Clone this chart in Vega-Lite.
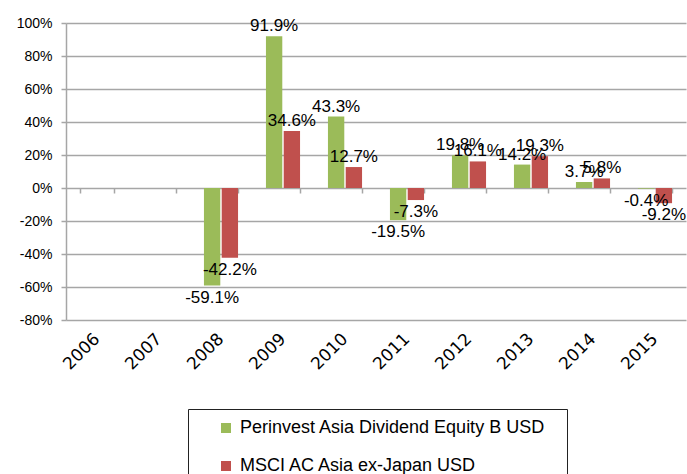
{
  "$schema": "https://vega.github.io/schema/vega-lite/v6.json",
  "width": 620,
  "height": 297,
  "autosize": "none",
  "padding": {"left": 66, "top": 23, "right": 1, "bottom": 154},
  "config": {
    "view": {"stroke": null},
    "font": "Liberation Sans",
    "locale": {"number": {"decimal": ".", "thousands": ",", "grouping": [3], "currency": ["$", ""], "minus": "-"}}
  },
  "data": {
    "values": [
      {"year": "2008", "series": "Perinvest Asia Dividend Equity B USD", "value": -0.591},
      {"year": "2008", "series": "MSCI AC Asia ex-Japan USD", "value": -0.422},
      {"year": "2009", "series": "Perinvest Asia Dividend Equity B USD", "value": 0.919},
      {"year": "2009", "series": "MSCI AC Asia ex-Japan USD", "value": 0.346},
      {"year": "2010", "series": "Perinvest Asia Dividend Equity B USD", "value": 0.433},
      {"year": "2010", "series": "MSCI AC Asia ex-Japan USD", "value": 0.127},
      {"year": "2011", "series": "Perinvest Asia Dividend Equity B USD", "value": -0.195},
      {"year": "2011", "series": "MSCI AC Asia ex-Japan USD", "value": -0.073},
      {"year": "2012", "series": "Perinvest Asia Dividend Equity B USD", "value": 0.198},
      {"year": "2012", "series": "MSCI AC Asia ex-Japan USD", "value": 0.161},
      {"year": "2013", "series": "Perinvest Asia Dividend Equity B USD", "value": 0.142},
      {"year": "2013", "series": "MSCI AC Asia ex-Japan USD", "value": 0.193},
      {"year": "2014", "series": "Perinvest Asia Dividend Equity B USD", "value": 0.037},
      {"year": "2014", "series": "MSCI AC Asia ex-Japan USD", "value": 0.058},
      {"year": "2015", "series": "Perinvest Asia Dividend Equity B USD", "value": -0.004},
      {"year": "2015", "series": "MSCI AC Asia ex-Japan USD", "value": -0.092}
    ]
  },
  "encoding": {
    "xOffset": {
      "field": "series",
      "type": "nominal",
      "scale": {"domain": ["Perinvest Asia Dividend Equity B USD", "MSCI AC Asia ex-Japan USD"], "paddingInner": 0.08}
    },
    "y": {
      "field": "value",
      "type": "quantitative",
      "scale": {"domain": [-0.8, 1.0], "nice": false, "zero": false},
      "axis": {
        "format": ".0%",
        "values": [-0.8, -0.6, -0.4, -0.2, 0, 0.2, 0.4, 0.6, 0.8, 1.0],
        "title": null,
        "gridColor": "#a6a6a6",
        "gridWidth": 1.5,
        "domainColor": "#a6a6a6",
        "domainWidth": 1.5,
        "tickColor": "#a6a6a6",
        "tickWidth": 1.5,
        "tickSize": 5,
        "labelFontSize": 14,
        "labelColor": "#000000",
        "labelPadding": 9
      }
    }
  },
  "layer": [
    {
      "mark": {"type": "bar"},
      "encoding": {
        "x": {
          "field": "year",
          "type": "nominal",
          "scale": {"domain": ["2006", "2007", "2008", "2009", "2010", "2011", "2012", "2013", "2014", "2015"], "paddingInner": 0.45, "paddingOuter": 0.225},
          "axis": {
            "title": null,
            "domain": false,
            "ticks": false,
            "labelAngle": -45,
            "labelAlign": "right",
            "labelBaseline": "middle",
            "labelFont": "DejaVu Sans",
            "labelFontSize": 17,
            "labelColor": "#000000",
            "labelPadding": 16
          }
        },
        "color": {
          "field": "series",
          "type": "nominal",
          "scale": {"domain": ["Perinvest Asia Dividend Equity B USD", "MSCI AC Asia ex-Japan USD"], "range": ["#9BBB59", "#C0504D"]},
          "legend": {
            "orient": "none",
            "legendX": 122,
            "legendY": 386,
            "direction": "vertical",
            "title": " ",
            "titleOrient": "right",
            "titlePadding": 12,
            "titleFontSize": 10,
            "symbolType": "square",
            "symbolSize": 100,
            "symbolStrokeWidth": 0,
            "labelFontSize": 18,
            "labelColor": "#000000",
            "labelLimit": 600,
            "padding": 10,
            "strokeColor": "#222222",
            "rowPadding": 20,
            "symbolOffset": 19,
            "labelOffset": 5
          }
        }
      }
    },
    {
      "transform": [{"filter": "datum.value >= 0"}],
      "mark": {"type": "text", "baseline": "alphabetic", "dy": -5, "fontSize": 17, "color": "#000000"},
      "encoding": {
        "x": {
          "field": "year",
          "type": "nominal",
          "scale": {"domain": ["2006", "2007", "2008", "2009", "2010", "2011", "2012", "2013", "2014", "2015"], "paddingInner": 0.45, "paddingOuter": 0.225},
          "axis": {
            "orient": "bottom",
            "offset": -132,
            "title": null,
            "labels": false,
            "domain": false,
            "grid": false,
            "ticks": true,
            "tickBand": "extent",
            "tickColor": "#a6a6a6",
            "tickWidth": 1.5,
            "tickSize": 5
          }
        },
        "text": {"field": "value", "type": "quantitative", "format": ".1%"}
      }
    },
    {
      "transform": [{"filter": "datum.value < 0"}],
      "mark": {"type": "text", "baseline": "top", "dy": 4, "fontSize": 17, "color": "#000000"},
      "encoding": {
        "x": {
          "field": "year",
          "type": "nominal",
          "scale": {"domain": ["2006", "2007", "2008", "2009", "2010", "2011", "2012", "2013", "2014", "2015"], "paddingInner": 0.45, "paddingOuter": 0.225},
          "axis": null
        },
        "text": {"field": "value", "type": "quantitative", "format": ".1%"}
      }
    }
  ],
  "resolve": {"axis": {"x": "independent"}}
}
